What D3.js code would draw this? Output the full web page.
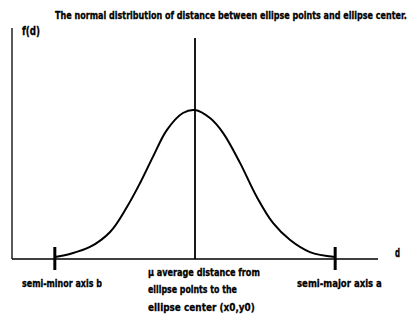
<!DOCTYPE html>
<html>
<head>
<meta charset="utf-8">
<script src="https://cdn.jsdelivr.net/npm/d3@7"></script>
<style>
  html, body { margin: 0; padding: 0; background: #fff; }
  svg { display: block; }
  text { font-family: "Liberation Sans Narrow", "DejaVu Sans Condensed", "Arial Narrow", sans-serif; font-weight: bold; fill: #000; stroke: #000; stroke-width: 0.25; }
</style>
</head>
<body>
<svg id="chart" width="413" height="321"></svg>
<script>
// Distance d between ellipse points and the ellipse center, and its density f(d)
const dValues = [1.17, 1.58, 2.13, 2.68, 3.14, 3.50, 3.85, 4.23, 4.67, 5.00, 5.41, 5.77, 6.23, 6.69, 7.13, 7.60, 8.14, 8.83];
const fValues = [0.009, 0.022, 0.052, 0.117, 0.225, 0.329, 0.442, 0.558, 0.632, 0.645, 0.610, 0.545, 0.416, 0.268, 0.156, 0.082, 0.030, 0.009];

// Marked positions on the d axis
const semiMinor = 1.17;   // b
const meanDist = 5.00;    // μ
const semiMajor = 8.83;   // a

const title = "The normal distribution of distance between ellipse points and ellipse center.";
const yLabel = "f(d)";
const xLabel = "d";
const minorLabel = "semi-minor axis b";
const majorLabel = "semi-major axis a";
const meanLabel = ["μ average distance from", "ellipse points to the", "ellipse center (x0,y0)"];

const svg = d3.select("#chart");

const x = d3.scaleLinear().domain([0, 10]).range([12, 378]);
const y = d3.scaleLinear().domain([0, 1]).range([259, 28]);

// Axes
svg.append("line")
  .attr("x1", x(0)).attr("x2", x(0))
  .attr("y1", y(1)).attr("y2", y(0))
  .attr("stroke", "#000").attr("stroke-width", 1.3);
svg.append("line")
  .attr("x1", x(0)).attr("x2", x(10))
  .attr("y1", y(0)).attr("y2", y(0))
  .attr("stroke", "#000").attr("stroke-width", 1.3);

// Mean line
svg.append("line")
  .attr("x1", x(meanDist)).attr("x2", x(meanDist))
  .attr("y1", 38).attr("y2", y(0))
  .attr("stroke", "#000").attr("stroke-width", 1.8);

// Density curve
const pts = dValues.map((d, i) => [d, fValues[i]]);
svg.append("path")
  .datum(pts)
  .attr("fill", "none")
  .attr("stroke", "#000")
  .attr("stroke-width", 2)
  .attr("d", d3.line().x(p => x(p[0])).y(p => y(p[1])).curve(d3.curveCatmullRom.alpha(0.5)));

// Axis markers for b and a
[semiMinor, semiMajor].forEach(v => {
  svg.append("line")
    .attr("x1", x(v)).attr("x2", x(v))
    .attr("y1", 247).attr("y2", 270)
    .attr("stroke", "#000").attr("stroke-width", 3);
});

// Text: fit each label to a given width by choosing the font size,
// then stretch vertically back to the intended glyph height.
function label(str, px, py, size, width) {
  const t = svg.append("text")
    .attr("x", 0).attr("y", 0)
    .attr("font-size", size)
    .text(str);
  const natural = t.node().getComputedTextLength();
  const fitSize = size * width / natural;
  t.attr("font-size", fitSize)
   .attr("transform", `translate(${px},${py}) scale(1,${size / fitSize})`);
  return t;
}

label(title, 55, 19, 11, 352);
label(yLabel, 22, 35, 12, 18);
label(xLabel, 395, 257, 12, 5);
label(minorLabel, 22, 287, 11, 80);
label(majorLabel, 297, 287, 11, 85);
label(meanLabel[0], 148, 276, 11, 112);
label(meanLabel[1], 148, 293, 11, 89);
label(meanLabel[2], 148, 311, 11, 107);
</script>
</body>
</html>
